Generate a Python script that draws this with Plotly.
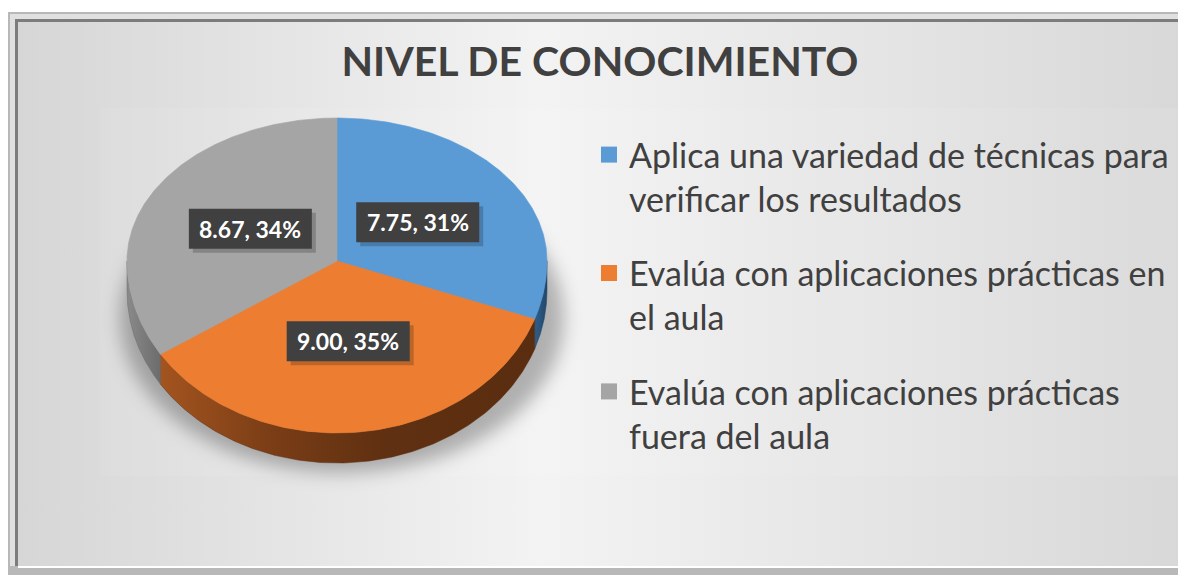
import math
import base64
import textwrap
import plotly.graph_objects as go

# ---------------- data ----------------
categories = [
    "Aplica una variedad de técnicas para verificar los resultados",
    "Evalúa con aplicaciones prácticas en el aula",
    "Evalúa con aplicaciones prácticas fuera del aula",
]
values = [7.75, 9.00, 8.67]
title_text = "NIVEL DE CONOCIMIENTO"

# ---------------- styles ----------------
top_colors = ["#5b9bd5", "#ed7d31", "#a5a5a5"]
side_scales = [
    [[0, "#2f5f8c"], [1, "#22476a"]],
    [[0, "#a3541f"], [0.3, "#7a3d16"], [0.6, "#5f3011"], [1, "#5b2d10"]],
    [[0, "#8a8a8a"], [1, "#6c6c6c"]],
]
W, H = 1178, 575
CX, CY = 337, 261          # pie vertex (pixels)
RX, RY_TOP, RY_BOT = 210, 143, 172
DEPTH = 30
LABEL_R = 0.47
BOX_W, BOX_H = 123, 40
FONT = "Lato"


def pt(theta_deg):
    t = math.radians(theta_deg)
    c = math.cos(t)
    ry = RY_TOP if c > 0 else RY_BOT
    return CX + RX * math.sin(t), CY - ry * c


def arc(a0, a1, n=160):
    xs, ys = [], []
    for k in range(n + 1):
        x, y = pt(a0 + (a1 - a0) * k / n)
        xs.append(x)
        ys.append(y)
    return xs, ys


total = sum(values)
raw = [v / total * 100 for v in values]
pcts = [int(math.floor(r)) for r in raw]
rem = 100 - sum(pcts)
for i in sorted(range(len(raw)), key=lambda i: raw[i] - math.floor(raw[i]), reverse=True)[:rem]:
    pcts[i] += 1

angles = []
acc = 0.0
for v in values:
    a0 = acc
    acc += v / total * 360
    angles.append((a0, acc))

fig = go.Figure()

# side walls (front half only)
for i, (a0, a1) in enumerate(angles):
    s, e = max(a0, 90), min(a1, 270)
    if e <= s:
        continue
    xs, ys = arc(s, e)
    px = xs + xs[::-1] + [xs[0]]
    py = ys + [y + DEPTH for y in ys[::-1]] + [ys[0]]
    fig.add_trace(go.Scatter(
        x=px, y=py, mode="lines", fill="toself",
        line=dict(width=0.5, color=side_scales[i][-1][1]),
        fillgradient=dict(type="horizontal", colorscale=side_scales[i],
                          start=min(px), stop=max(px)),
        hoverinfo="skip", showlegend=False))

# top faces
for i, (a0, a1) in enumerate(angles):
    xs, ys = arc(a0, a1)
    fig.add_trace(go.Scatter(
        x=[CX] + xs + [CX], y=[CY] + ys + [CY], mode="lines", fill="toself",
        fillcolor=top_colors[i], line=dict(width=0.6, color=top_colors[i]),
        hoverinfo="skip", showlegend=False))

# legend entries
for i, cat in enumerate(categories):
    fig.add_trace(go.Scatter(
        x=[None], y=[None], mode="markers",
        marker=dict(symbol="square", size=18, color=top_colors[i]),
        name="<br>".join(textwrap.wrap(cat, 36)),
        legendgroup=f"g{i}", showlegend=True))

# data labels (box + drop shadow)
annotations = []
shapes = []
for i, (a0, a1) in enumerate(angles):
    m = math.radians((a0 + a1) / 2)
    c = math.cos(m)
    ry = RY_TOP if c > 0 else RY_BOT
    lx = CX + LABEL_R * RX * math.sin(m)
    ly = CY - LABEL_R * ry * c
    txt = f"{values[i]:.2f}, {pcts[i]}%"
    shapes.append(dict(type="rect", xref="x", yref="y", layer="above",
                       x0=lx - BOX_W / 2 + 4, x1=lx + BOX_W / 2 + 4,
                       y0=ly - BOX_H / 2 + 4, y1=ly + BOX_H / 2 + 4,
                       fillcolor="rgba(0,0,0,0.2)", line=dict(width=0)))
    shapes.append(dict(type="rect", xref="x", yref="y", layer="above",
                       x0=lx - BOX_W / 2, x1=lx + BOX_W / 2,
                       y0=ly - BOX_H / 2, y1=ly + BOX_H / 2,
                       fillcolor="#404040", line=dict(width=0)))
    annotations.append(dict(x=lx, y=ly, xref="x", yref="y", showarrow=False,
                            text=f"<b>{txt}</b>",
                            font=dict(color="white", size=23, family=FONT)))

# background (frame + gradient + soft pie shadow)
svg = f"""<svg xmlns="http://www.w3.org/2000/svg" width="{W}" height="{H}" viewBox="0 0 {W} {H}">
<defs>
<linearGradient id="bg" gradientUnits="userSpaceOnUse" x1="18" y1="0" x2="{W}" y2="0">
<stop offset="0" stop-color="#d6d6d6"/><stop offset="0.45" stop-color="#f3f3f3"/><stop offset="1" stop-color="#d8d8d8"/>
</linearGradient>
<filter id="blur" x="-50%" y="-50%" width="200%" height="200%"><feGaussianBlur stdDeviation="9"/></filter>
</defs>
<rect width="{W}" height="{H}" fill="#ffffff"/>
<rect x="8" y="12" width="1300" height="600" fill="#b8b8b8"/>
<rect x="10" y="14" width="1300" height="552" fill="#e0e0e0"/>
<rect x="15" y="19" width="1300" height="547" fill="#7c7c7c"/>
<rect x="18" y="22" width="1300" height="544" fill="url(#bg)"/>
<rect x="18" y="566" width="1300" height="2" fill="#ffffff"/>
<rect x="100" y="108" width="1200" height="368" fill="#ffffff" fill-opacity="0.08"/>
<ellipse cx="342" cy="318" rx="222" ry="155" fill="#000000" fill-opacity="0.28" filter="url(#blur)"/>
</svg>"""
src = "data:image/svg+xml;base64," + base64.b64encode(svg.encode("utf-8")).decode("ascii")

fig.update_layout(
    width=W, height=H,
    margin=dict(l=0, r=0, t=0, b=0, pad=0, autoexpand=False),
    paper_bgcolor="white", plot_bgcolor="rgba(0,0,0,0)",
    xaxis=dict(range=[0, W], visible=False, fixedrange=True),
    yaxis=dict(range=[H, 0], visible=False, fixedrange=True),
    images=[dict(source=src, xref="paper", yref="paper", x=0, y=1,
                 sizex=1, sizey=1, sizing="stretch", layer="below",
                 xanchor="left", yanchor="top")],
    title=dict(text=f"<b>{title_text}</b>", x=600 / W, xanchor="center",
               y=1 - 62 / H, yanchor="middle", yref="container",
               font=dict(family=FONT, size=41, color="#404040")),
    legend=dict(x=589 / W, y=1 - 126 / H, xanchor="left", yanchor="top",
                font=dict(family=FONT, size=34, color="#404040"),
                bgcolor="rgba(0,0,0,0)", tracegroupgap=27, valign="top"),
    shapes=shapes,
    annotations=annotations,
    hovermode=False, dragmode=False, showlegend=True,
)

fig.write_html(
    "out.html",
    config={"displayModeBar": False},
    post_script="document.body.style.margin='0px';document.body.style.overflow='hidden';",
)
